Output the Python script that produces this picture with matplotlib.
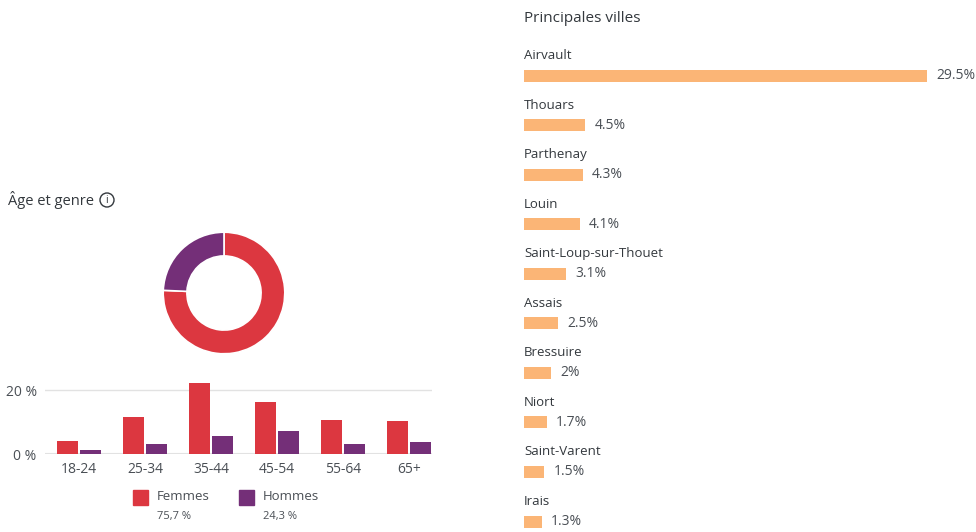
import numpy as np
import matplotlib
matplotlib.use("Agg")
import matplotlib.pyplot as plt
from matplotlib.patches import Rectangle, Circle

plt.rcParams['font.family'] = ['Open Sans', 'DejaVu Sans']

# age / gender data (percent of audience)
age_groups = ["18-24", "25-34", "35-44", "45-54", "55-64", "65+"]
femmes = [4.2, 11.7, 22.3, 16.3, 10.6, 10.3]
hommes = [1.1, 3.0, 5.5, 7.2, 3.0, 3.9]
gender_labels = ["Femmes", "Hommes"]
gender_share = [75.7, 24.3]
gender_text = ["75,7 %", "24,3 %"]

# top cities
villes = ["Airvault", "Thouars", "Parthenay", "Louin", "Saint-Loup-sur-Thouet",
          "Assais", "Bressuire", "Niort", "Saint-Varent", "Irais"]
villes_pct = [29.5, 4.5, 4.3, 4.1, 3.1, 2.5, 2.0, 1.7, 1.5, 1.3]
villes_txt = ["29.5%", "4.5%", "4.3%", "4.1%", "3.1%", "2.5%", "2%", "1.7%", "1.5%", "1.3%"]

RED = "#dc3740"
PURPLE = "#742f78"
ORANGE = "#fbb576"
DARK = "#33383d"
GREY = "#4a4f55"

W, H = 976, 532
fig = plt.figure(figsize=(W / 100, H / 100), dpi=100)

def px_axes(x0, y0, x1, y1):
    # axes from pixel box (top-left origin)
    return fig.add_axes([x0 / W, 1 - y1 / H, (x1 - x0) / W, (y1 - y0) / H])

# ---- overlay for free text
ov = px_axes(0, 0, W, H)
ov.set_xlim(0, W)
ov.set_ylim(H, 0)
ov.axis("off")

ov.text(8, 200, "Âge et genre", fontsize=10.5, color=DARK, va="center", ha="left",
        fontweight="medium")
ov.add_patch(Circle((107, 200), 7, fill=False, lw=1.0, ec=DARK))
ov.text(107, 200.5, "i", fontsize=7.5, color=DARK, ha="center", va="center")

# ---- donut
dax = px_axes(224 - 62, 293 - 62, 224 + 62, 293 + 62)
dax.pie(gender_share, colors=[RED, PURPLE], startangle=90, counterclock=False,
        radius=1.0, wedgeprops=dict(width=0.39, edgecolor="white", linewidth=1.2))
dax.set_aspect("equal")
dax.set_xlim(-1.02, 1.02)
dax.set_ylim(-1.02, 1.02)

# ---- age bars
bax = px_axes(45, 380, 432, 454)
x = np.arange(len(age_groups))
bw = 0.318
bax.bar(x - 0.174, femmes, bw, color=RED)
bax.bar(x + 0.174, hommes, bw, color=PURPLE)
bax.set_xlim((45 - 79) / 66, (432 - 79) / 66)
bax.set_ylim(0, (454 - 380) / 3.2)
bax.set_yticks([0, 20])
bax.set_yticklabels(["0 %", "20 %"])
bax.set_xticks(x)
bax.set_xticklabels(age_groups)
bax.axhline(20, color="#e2e2e2", lw=1, zorder=0)
bax.axhline(0, color="#e2e2e2", lw=1.5, zorder=0)
for s in bax.spines.values():
    s.set_visible(False)
bax.tick_params(length=0, labelsize=10, colors=GREY)
bax.tick_params(axis="y", pad=6)
bax.tick_params(axis="x", pad=6)

# legend
for i, (lab, txt, col) in enumerate(zip(gender_labels, gender_text, [RED, PURPLE])):
    x0 = 133 + 106 * i
    ov.add_patch(Rectangle((x0, 490), 15, 15, color=col))
    ov.text(x0 + 24, 497, lab, fontsize=9.5, color=GREY, va="center")
    ov.text(x0 + 24, 516, txt, fontsize=8, color=GREY, va="center")

# ---- cities
cax = px_axes(524, 0, W, H)
step = 49.5
cax.set_ylim((H - 76) / step, -76 / step)
cax.set_xlim(0, villes_pct[0] * (W - 524) / 403)
cax.axis("off")
yy = np.arange(len(villes))
cax.barh(yy, villes_pct, height=12 / step, color=ORANGE)
cax.text(0, -58 / step, "Principales villes", fontsize=11, color=DARK,
         fontweight="medium", va="center", ha="left")
for i in range(len(villes)):
    cax.text(0, i - 20 / step, villes[i], fontsize=9.5, color=DARK, va="center")
    cax.annotate(villes_txt[i], (villes_pct[i], i), xytext=(6.5, 0),
                 textcoords="offset points", fontsize=10, color=GREY,
                 va="center", ha="left")

fig.savefig("out.png", dpi=100)
